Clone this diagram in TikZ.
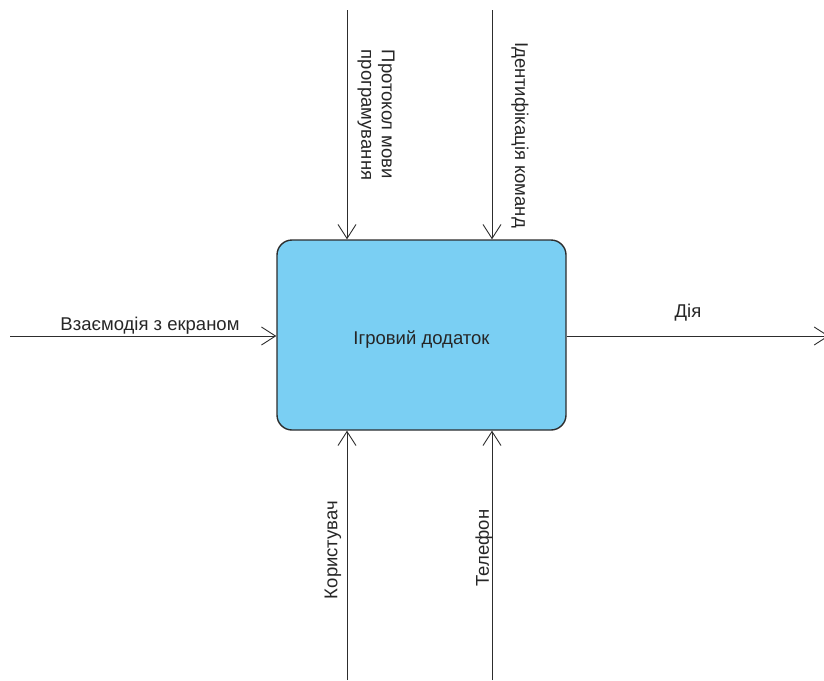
\documentclass[tikz,border=0pt]{standalone}
\usepackage{fontspec}
\setmainfont{Liberation Sans}
\usepackage{xcolor}
\usepackage{tikz}
\usetikzlibrary{arrows.meta}
\definecolor{boxblue}{RGB}{122,207,243}
\definecolor{linegray}{RGB}{45,45,45}

\begin{document}
\begin{tikzpicture} [x=1pt, y=-1pt,
  box/.style={draw=linegray, line width=1.4pt, fill=boxblue, rounded corners=15pt,
    minimum width=289pt, minimum height=190pt, inner sep=0pt},
  lbl/.style={font=\fontsize{18.5}{20.5}\selectfont, text=black!85, inner sep=0pt},
  flow/.style={draw=linegray, line width=0.9pt, -{Straight Barb[length=14pt,width=18pt]}}]
\useasboundingbox (0,0) rectangle (824,680);
\node[box] (app) at (421.5,335) {};
\node[lbl] (applbl) at (421.5,340) {Ігровий додаток};
% free ends of the arrows
\coordinate (ctlA) at (347,10);
\coordinate (ctlB) at (492,10);
\coordinate (mechA) at (347,680);
\coordinate (mechB) at (492,680);
\coordinate (inp) at (10,336);
\coordinate (outp) at (829,336);
\draw[flow] (ctlA) -- (app.north -| ctlA);
\draw[flow] (ctlB) -- (app.north -| ctlB);
\draw[flow] (mechA) -- (app.south -| mechA);
\draw[flow] (mechB) -- (app.south -| mechB);
\draw[flow] (inp) -- (app.west |- inp);
\draw[flow] (app.east |- outp) -- (outp);
% labels
\node[lbl, rotate=-90, align=left] (protlbl) at (376,115) {Протокол мови\\програмування};
\node[lbl, rotate=-90] (idlbl) at (520,135) {Ідентифікація команд};
\node[lbl, rotate=90] (userlbl) at (333,550) {Користувач};
\node[lbl, rotate=90] (phonelbl) at (484,548) {Телефон};
\node[lbl] (scrlbl) at (150,326) {Взаємодія з екраном};
\node[lbl] (actlbl) at (688,313) {Дія};
\end{tikzpicture}
\end{document}
